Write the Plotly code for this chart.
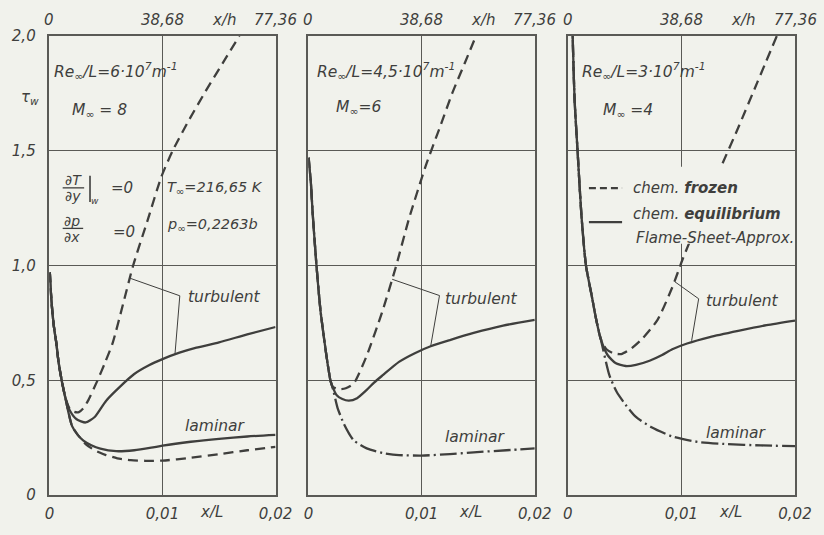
import plotly.graph_objects as go

# ---------------- data ----------------
x_ticks = [0, 0.01, 0.02]
x_tick_text = ["0", "0,01", "0,02"]
top_ticks = [0, 38.68, 77.36]
top_tick_text = ["0", "38,68", "77,36"]
top_max = 77.36
y_ticks = [0, 0.5, 1.0, 1.5, 2.0]
y_tick_text = ["0", "0,5", "1,0", "1,5", "2,0"]

# Panel 1: Re/L = 6e7, M = 8
p1_lead_x = [0.00003, 0.0001, 0.00024, 0.0004, 0.0006, 0.0008, 0.0011, 0.0014]
p1_lead_y = [0.97, 0.90, 0.806, 0.73, 0.664, 0.58, 0.494, 0.425]
p1_turb_frozen_x = [0.0018, 0.0022, 0.0026, 0.0030, 0.0034, 0.0042, 0.0049, 0.0056, 0.0065,
                    0.0074, 0.0087, 0.0099, 0.0109, 0.0123, 0.0137, 0.0153, 0.0168]
p1_turb_frozen_y = [0.375, 0.362, 0.361, 0.378, 0.41, 0.494, 0.575, 0.664, 0.83,
                    1.0, 1.2, 1.387, 1.5, 1.63, 1.75, 1.88, 2.0]
p1_turb_eq_x = [0.0018, 0.0024, 0.0032, 0.004, 0.005, 0.0062, 0.0075, 0.0088, 0.01,
                0.0115, 0.013, 0.015, 0.0175, 0.02]
p1_turb_eq_y = [0.368, 0.33, 0.316, 0.34, 0.41, 0.47, 0.527, 0.565, 0.592,
                0.62, 0.642, 0.665, 0.70, 0.732]
p1_lam_common_x = [0.0017, 0.002, 0.0025]
p1_lam_common_y = [0.355, 0.30, 0.262]
p1_lam_eq_x = [0.003, 0.0037, 0.0045, 0.0059, 0.0075, 0.009, 0.01, 0.0125, 0.015, 0.0175, 0.02]
p1_lam_eq_y = [0.237, 0.217, 0.202, 0.191, 0.195, 0.206, 0.215, 0.232, 0.245, 0.255, 0.262]
p1_lam_frozen_x = [0.0032, 0.004, 0.005, 0.006, 0.0072, 0.0085, 0.01, 0.0125, 0.015, 0.0175, 0.02]
p1_lam_frozen_y = [0.222, 0.195, 0.174, 0.16, 0.152, 0.149, 0.15, 0.162, 0.178, 0.195, 0.21]
p1_ptr_x = [0.0071, 0.01153, 0.0111]
p1_ptr_y = [0.945, 0.868, 0.612]

# Panel 2: Re/L = 4.5e7, M = 6
p2_lead_x = [0.00002, 0.0001, 0.0002, 0.00037, 0.00071, 0.00106, 0.00143, 0.0017, 0.00194]
p2_lead_y = [1.47, 1.42, 1.373, 1.23, 1.0, 0.806, 0.664, 0.57, 0.5]
p2_turb_frozen_x = [0.00214, 0.0025, 0.0029, 0.0033, 0.004, 0.00515, 0.00657, 0.00772,
                    0.00886, 0.01043, 0.0116, 0.0127, 0.0138, 0.0148]
p2_turb_frozen_y = [0.472, 0.463, 0.461, 0.465, 0.486, 0.607, 0.806, 0.993,
                    1.2, 1.444, 1.6, 1.75, 1.88, 2.0]
p2_turb_eq_x = [0.00214, 0.0025, 0.003, 0.00357, 0.0043, 0.00515, 0.0058, 0.00657, 0.008,
                0.0094, 0.0108, 0.0125, 0.0146, 0.0172, 0.02]
p2_turb_eq_y = [0.47, 0.435, 0.418, 0.411, 0.422, 0.458, 0.49, 0.522, 0.58,
                0.618, 0.648, 0.675, 0.706, 0.738, 0.763]
p2_lam_x = [0.0022, 0.00257, 0.00314, 0.004, 0.00515, 0.00657, 0.008, 0.01, 0.0125, 0.0146, 0.0175, 0.02]
p2_lam_y = [0.455, 0.38, 0.309, 0.238, 0.203, 0.183, 0.174, 0.172, 0.178, 0.186, 0.195, 0.203]
p2_ptr_x = [0.0074, 0.01158, 0.0108]
p2_ptr_y = [0.94, 0.869, 0.648]

# Panel 3: Re/L = 3e7, M = 4
p3_lead_x = [0.0004, 0.00043, 0.0006, 0.00086, 0.0012, 0.0016, 0.0021, 0.0025, 0.0029]
p3_lead_y = [2.1, 2.0, 1.72, 1.5, 1.22, 1.0, 0.87, 0.765, 0.68]
p3_turb_frozen_x = [0.0034, 0.004, 0.0047, 0.0055, 0.0065, 0.0079, 0.0092, 0.0101,
                    0.0117, 0.0134, 0.015, 0.0167, 0.0184]
p3_turb_frozen_y = [0.635, 0.618, 0.614, 0.635, 0.678, 0.763, 0.905, 1.026,
                    1.22, 1.42, 1.6, 1.8, 2.0]
p3_turb_eq_x = [0.0035, 0.0042, 0.0051, 0.006, 0.0072, 0.0083, 0.0092, 0.0105, 0.0125, 0.015, 0.0175, 0.02]
p3_turb_eq_y = [0.61, 0.575, 0.562, 0.567, 0.585, 0.61, 0.635, 0.66, 0.688, 0.715, 0.74, 0.76]
p3_lam_x = [0.00366, 0.0043, 0.00508, 0.006, 0.00737, 0.0092, 0.0115, 0.014, 0.017, 0.02]
p3_lam_y = [0.522, 0.45, 0.394, 0.34, 0.295, 0.255, 0.231, 0.222, 0.216, 0.213]
p3_ptr_x = [0.0094, 0.01152, 0.0109]
p3_ptr_y = [0.93, 0.855, 0.672]

# ---------------- styling ----------------
BG = "#f1f2ec"
INK = "#3f3f3d"
GRID = "#5a5a56"
FONT = "DejaVu Sans"
LW = 2.3
DASH = "10px,6px"
DASHDOT = "17px,4px,2px,4px"
FS = 15.5

W, H = 824, 535
ML, MR, MT, MB = 41, 19, 36, 29
PW, PH = W - ML - MR, H - MT - MB


def px(xp):
    return (xp - ML) / PW


def py(yp):
    return (H - MB - yp) / PH


domains = [[px(41.5), px(273)], [px(306.7), px(538.5)], [px(572.3), 1.0]]

fig = go.Figure()


def line(xs, ys, ax, dash="solid", width=LW):
    fig.add_trace(go.Scatter(
        x=xs, y=ys, mode="lines", xaxis=ax[0], yaxis=ax[1],
        line=dict(color=INK, width=width, dash=dash, shape="spline", smoothing=0.6),
        showlegend=False, hoverinfo="skip"))


a1, a2, a3 = ("x", "y"), ("x2", "y2"), ("x3", "y3")

# panel 1
line(p1_lead_x + p1_turb_frozen_x, p1_lead_y + p1_turb_frozen_y, a1, DASH)
line(p1_lead_x + p1_turb_eq_x, p1_lead_y + p1_turb_eq_y, a1)
line(p1_lead_x + p1_lam_common_x + p1_lam_eq_x, p1_lead_y + p1_lam_common_y + p1_lam_eq_y, a1)
line(p1_lead_x + p1_lam_common_x + p1_lam_frozen_x, p1_lead_y + p1_lam_common_y + p1_lam_frozen_y, a1, DASH)
fig.add_trace(go.Scatter(x=p1_ptr_x, y=p1_ptr_y, mode="lines", xaxis="x", yaxis="y",
                         line=dict(color=INK, width=1), showlegend=False, hoverinfo="skip"))
# panel 2
line(p2_lead_x + p2_turb_frozen_x, p2_lead_y + p2_turb_frozen_y, a2, DASH)
line(p2_lead_x + p2_turb_eq_x, p2_lead_y + p2_turb_eq_y, a2)
line(p2_lead_x + p2_lam_x, p2_lead_y + p2_lam_y, a2, DASHDOT)
fig.add_trace(go.Scatter(x=p2_ptr_x, y=p2_ptr_y, mode="lines", xaxis="x2", yaxis="y2",
                         line=dict(color=INK, width=1), showlegend=False, hoverinfo="skip"))
# panel 3
line(p3_lead_x + p3_turb_frozen_x, p3_lead_y + p3_turb_frozen_y, a3, DASH)
line(p3_lead_x + p3_turb_eq_x, p3_lead_y + p3_turb_eq_y, a3)
line(p3_lead_x + p3_lam_x, p3_lead_y + p3_lam_y, a3, DASHDOT)
fig.add_trace(go.Scatter(x=p3_ptr_x, y=p3_ptr_y, mode="lines", xaxis="x3", yaxis="y3",
                         line=dict(color=INK, width=1), showlegend=False, hoverinfo="skip"))

axis_common = dict(range=[0, 0.02], tickvals=x_ticks, ticktext=x_tick_text,
                   showgrid=True, gridcolor=GRID, gridwidth=1.2, zeroline=False,
                   showline=True, mirror=True, linecolor=GRID, linewidth=1.6,
                   ticks="", ticklabelstandoff=4,
                   tickfont=dict(family=FONT, size=15, color=INK, style="italic"))
yaxis_common = dict(range=[0, 2.0], tickvals=y_ticks, ticktext=y_tick_text,
                    showgrid=True, gridcolor=GRID, gridwidth=1.2, zeroline=False,
                    showline=True, mirror=True, linecolor=GRID, linewidth=1.6,
                    ticks="", ticklabelstandoff=9,
                    tickfont=dict(family=FONT, size=15, color=INK, style="italic"))

layout = dict(
    width=W, height=H, margin=dict(l=ML, r=MR, t=MT, b=MB),
    paper_bgcolor=BG, plot_bgcolor=BG, showlegend=False,
    font=dict(family=FONT, size=FS, color=INK, style="italic"),
)
for i, dom in enumerate(domains):
    sx = "" if i == 0 else str(i + 1)
    layout["xaxis" + sx] = dict(axis_common, domain=dom, anchor="y" + sx)
    layout["yaxis" + sx] = dict(yaxis_common, domain=[0, 1], anchor="x" + sx,
                                showticklabels=(i == 0))
fig.update_layout(**layout)

ann = []


def txt(text, x, y, xref="paper", yref="paper", xanchor="left", size=FS, yanchor="middle"):
    ann.append(dict(text=text, x=x, y=y, xref=xref, yref=yref, xanchor=xanchor,
                    yanchor=yanchor, showarrow=False,
                    font=dict(family=FONT, size=size, color=INK, style="italic")))


# top axis labels (x/h) and axis names
for i in range(3):
    xr = "x" if i == 0 else "x" + str(i + 1)
    for v, t in zip(top_ticks, top_tick_text):
        txt(t, v / top_max * 0.02, py(20), xref=xr, xanchor="center", size=15)
    txt("x/h", 0.01542, py(20), xref=xr, xanchor="center", size=15)
    txt("x/L", 0.0143, py(523), xref=xr, xanchor="center", size=15)

txt("τ<sub>w</sub>", px(22), py(99), xanchor="center", size=15)

# panel 1 texts
txt("Re<sub>∞</sub>/L=6·10<sup>7</sup>m<sup>-1</sup>", px(44), py(72))
txt("M<sub>∞</sub> = 8", px(62), py(113))
txt("∂T", px(66), py(183), xanchor="center", size=14)
txt("∂y", px(66), py(200), xanchor="center", size=14)
txt("w", px(88), py(205), xanchor="center", size=9)
txt("=0", px(102), py(192), size=15)
txt("∂p", px(65), py(225), xanchor="center", size=14)
txt("∂x", px(65), py(242), xanchor="center", size=14)
txt("=0", px(104), py(237), size=15)
txt("T<sub>∞</sub>=216,65 K", px(160), py(192), size=14.5)
txt("p<sub>∞</sub>=0,2263b", px(160), py(230), size=14.5)
txt("turbulent", 0.0121, 0.864, xref="x", yref="y")
txt("laminar", 0.0118, 0.302, xref="x", yref="y")

# panel 2 texts
txt("Re<sub>∞</sub>/L=4,5·10<sup>7</sup>m<sup>-1</sup>", px(313), py(72))
txt("M<sub>∞</sub>=6", px(333), py(110))
txt("turbulent", 0.0119, 0.855, xref="x2", yref="y2")
txt("laminar", 0.0119, 0.251, xref="x2", yref="y2")

# panel 3 texts
txt("Re<sub>∞</sub>/L=3·10<sup>7</sup>m<sup>-1</sup>", px(585), py(72))
txt("M<sub>∞</sub> =4", px(606), py(113))
txt("turbulent", 0.0120, 0.847, xref="x3", yref="y3")
txt("laminar", 0.0120, 0.269, xref="x3", yref="y3")

# key (legend) drawn inside panel 3
txt("chem. <b>frozen</b>", 0.00555, 1.337, xref="x3", yref="y3", size=15)
txt("chem. <b>equilibrium</b>", 0.00555, 1.226, xref="x3", yref="y3", size=15)
txt("Flame-Sheet-Approx.", 0.0058, 1.119, xref="x3", yref="y3", size=15)

shapes = [
    # fraction bars and evaluation bar
    dict(type="line", xref="paper", yref="paper", x0=px(55), x1=px(77), y0=py(191.5), y1=py(191.5),
         line=dict(color=INK, width=1.3)),
    dict(type="line", xref="paper", yref="paper", x0=px(83), x1=px(83), y0=py(179), y1=py(206),
         line=dict(color=INK, width=1.6)),
    dict(type="line", xref="paper", yref="paper", x0=px(55), x1=px(76), y0=py(233), y1=py(233),
         line=dict(color=INK, width=1.3)),
    # key background (hides curve and grid behind the key)
    dict(type="rect", xref="x3", yref="y3", x0=0.0017, x1=0.0198, y0=1.095, y1=1.43,
         fillcolor=BG, line=dict(width=0), layer="above"),
    dict(type="line", xref="x3", yref="y3", x0=0.00186, x1=0.00478, y0=1.337, y1=1.337,
         line=dict(color=INK, width=LW, dash="7px,4px"), layer="above"),
    dict(type="line", xref="x3", yref="y3", x0=0.00186, x1=0.00478, y0=1.189, y1=1.189,
         line=dict(color=INK, width=LW), layer="above"),
]

fig.update_layout(annotations=ann, shapes=shapes)

FIT_JS = """
document.documentElement.style.margin='0';
document.body.style.margin='0';
document.body.style.overflow='hidden';
document.documentElement.style.background='%s';
document.body.style.background='%s';
(function(){
  var gd=document.getElementById('{plot_id}');
  function fit(){
    var sx=window.innerWidth/%d, sy=window.innerHeight/%d;
    if(!(sx>0)||!(sy>0)){return;}
    gd.style.transformOrigin='0 0';
    gd.style.transform='scale('+sx+','+sy+')';
  }
  fit();
  window.addEventListener('resize', fit);
})();
""" % (BG, BG, W, H)

fig.write_html("out.html", config={"displayModeBar": False}, post_script=FIT_JS)
